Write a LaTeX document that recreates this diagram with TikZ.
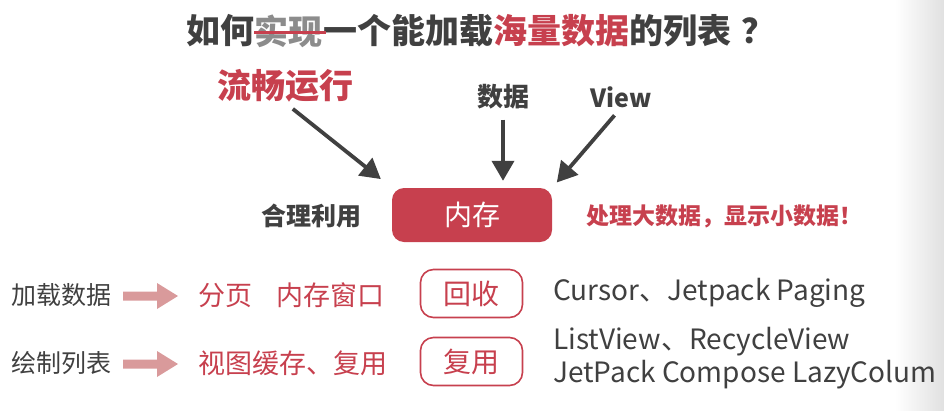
\documentclass[tikz,border=0pt]{standalone}
\usepackage{fontspec}
\setmainfont{Noto Sans CJK SC}
\usepackage{tikz}
\usetikzlibrary{positioning,shapes,arrows.meta,calc}

\definecolor{ink}{HTML}{404040}
\definecolor{memred}{HTML}{C7404E}
\definecolor{fadegray}{HTML}{8C8C8C}
\definecolor{pinkarr}{HTML}{D99A9B}

\begin{document}
\begin{tikzpicture}
  [
      x=1pt, y=-1pt,
      every node/.style={inner sep=0pt, text=ink},
      head/.style={font=\fontsize{34}{34}\selectfont\bfseries, text=#1},
      tag/.style={font=\fontsize{25}{25}\selectfont\bfseries, text=#1},
      plain/.style={font=\fontsize{25}{25}\selectfont, text=#1},
      membox/.style={rectangle, rounded corners=12pt, fill=memred, minimum width=160pt, minimum height=54pt, text=white, font=\fontsize{28}{28}\selectfont},
      outbox/.style={rectangle, rounded corners=13pt, draw=memred, line width=1.6pt, minimum width=102pt, minimum height=48pt, text=memred, font=\fontsize{28}{28}\selectfont},
      thick arrow/.style={draw=ink, line width=3.8pt, -{Triangle[length=20pt,width=22pt]}}
    ]
    \useasboundingbox (0,0) rectangle (944,410);
    \shade [left color=white, right color=black!12] (895,0) rectangle (944,410);

    % title
    \node (t1) [head=ink, anchor=west] at (186,31) {如何};
    \node (t2) [head=fadegray, right=0pt of t1] {实现};
    \node (t3) [head=ink, right=0pt of t2] {一个能加载};
    \node (t4) [head=memred, right=0pt of t3] {海量数据};
    \node (t5) [head=ink, right=0pt of t4] {的列表\hspace{10pt}？};
    \draw [memred, line width=3pt] ([yshift=-1pt]t2.west) -- ([yshift=-1pt, xshift=3pt]t2.east);

    % memory
    \node (mem) [membox] at (472,215) {内存};
    \node (fluent) [head=memred] at (285,86) {流畅运行};
    \node (data) [tag=ink, font=\fontsize{26}{26}\selectfont\bfseries] at (503,97) {数据};
    \node (view) [tag=ink] at (621,97) {View};
    \node (use) [tag=ink] at (311,216) {合理利用};
    \node (handle) [tag=memred, font=\fontsize{23}{23}\selectfont\bfseries, anchor=west] at (586,216) {处理大数据，显示小数据！};
    \draw [thick arrow, shorten <=10pt, shorten >=14pt] (fluent.south) -- (mem.north west);
    \draw [thick arrow, shorten <=10pt, shorten >=7pt] (data.south) -- (data.south |- mem.north);
    \draw [thick arrow, shorten <=10pt, shorten >=7pt] (view.south) -- (mem.north east);

    % rows
    \node (load) [plain=ink] at (61,295) {加载数据};
    \node (page) [plain=memred, font=\fontsize{27}{27}\selectfont, anchor=west] at (198,295) {分页\hspace{24pt}内存窗口};
    \node (recycle) [outbox] at (471.5,293.5) {回收};
    \node (cursor) [plain=ink, font=\fontsize{28}{28}\selectfont, anchor=west] at (553,293) {Cursor、Jetpack Paging};

    \node (paint) [plain=ink] at (61,363) {绘制列表};
    \node (cache) [plain=memred, font=\fontsize{27}{27}\selectfont, anchor=west] at (198,363) {视图缓存、复用};
    \node (reuse) [outbox] at (471.5,361.5) {复用};
    \node (lists) [plain=ink, font=\fontsize{28}{33}\selectfont, align=left, anchor=west] at (553,358) {ListView、RecycleView\\JetPack Compose LazyColum};

    % block arrows between the row labels and the red texts
    \foreach \r/\a/\b in {296/load/page, 364/paint/cache}
      \fill [pinkarr] (123,\r-4.5) -- (157,\r-4.5) -- (157,\r-13) -- (178,\r) -- (157,\r+13) -- (157,\r+4.5) -- (123,\r+4.5) -- cycle;
  \end{tikzpicture}
\end{document}
